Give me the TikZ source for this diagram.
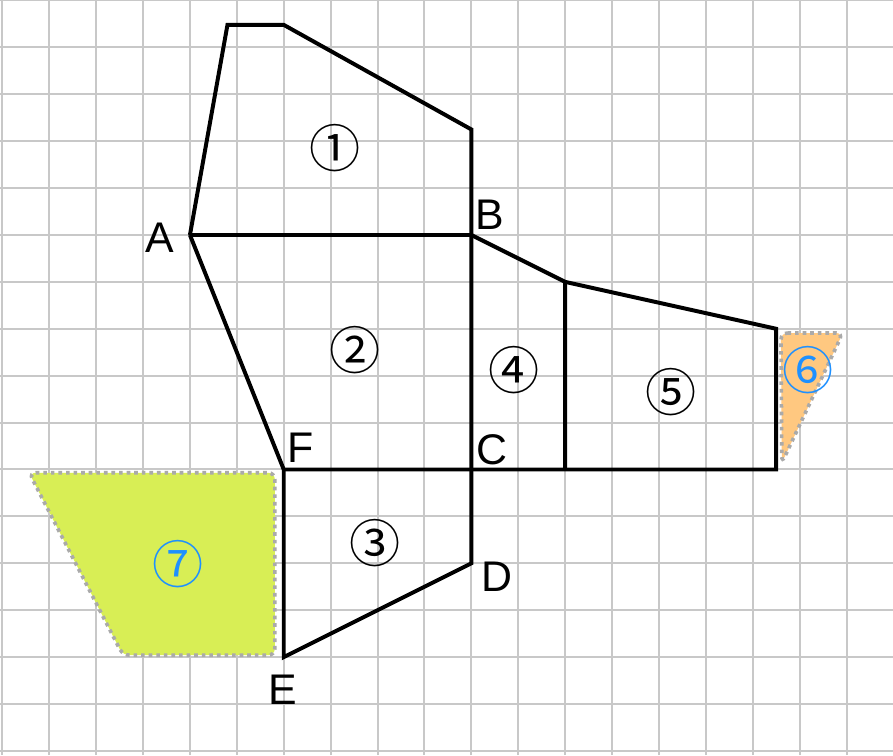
\documentclass[tikz,border=0pt]{standalone}
\usepackage{fontspec}
\setmainfont{Liberation Sans}
\newfontfamily\circfont{Noto Sans CJK JP}
\definecolor{gridgray}{RGB}{200,200,200}
\definecolor{dotgray}{RGB}{170,170,170}
\definecolor{orangefill}{RGB}{255,200,128}
\definecolor{greenfill}{RGB}{216,238,85}
\definecolor{numblue}{RGB}{30,144,255}
\begin{document}
\begin{tikzpicture}[
  edge/.style={line width=2.4pt, line join=miter},
  ptlabel/.style={font=\fontsize{26}{30}\selectfont, inner sep=0pt},
  numlabel/.style={font=\circfont\fontsize{31}{34}\selectfont, inner sep=0pt},
  region/.style={draw=dotgray, line width=2.2pt, dash pattern=on 2.2pt off 2.4pt, rounded corners=4pt}
]
\useasboundingbox (-4.05,-11.09) rectangle (14.99,5.01);
\fill[white] (-4.05,-11.09) rectangle (14.99,5.01);
% grid
\foreach \x in {-4,...,14} \draw[gridgray, line width=1.2pt] (\x,-11.09) -- (\x,5.01);
\foreach \y in {-11,...,5} \draw[gridgray, line width=1.2pt] (-4.05,\y) -- (14.99,\y);
% shaded regions
\filldraw[fill=orangefill, region] (12.6,-2.09) -- (13.92,-2.09) -- (12.62,-4.86) -- cycle;
\filldraw[fill=greenfill, region] (-3.43,-5.07) -- (1.81,-5.07) -- (1.81,-8.96) -- (-1.43,-8.96) -- cycle;
% points
\coordinate (A) at (0,0);
\coordinate (B) at (6,0);
\coordinate (C) at (6,-5);
\coordinate (F) at (2,-5);
\coordinate (D) at (6,-7);
\coordinate (E) at (2,-9);
\coordinate (T1) at (0.8,4.48);
\coordinate (T2) at (2,4.48);
\coordinate (T3) at (6,2.25);
\coordinate (P) at (8,-1);
\coordinate (Q) at (8,-5);
\coordinate (R) at (12.5,-2);
\coordinate (S) at (12.5,-5);
% outlines
\draw[edge] (A) -- (T1) -- (T2) -- (T3) -- (B);
\draw[edge] (A) -- (B);
\draw[edge] (A) -- (F) -- (C);
\draw[edge] (B) -- (C) -- (D) -- (E) -- (F);
\draw[edge] (B) -- (P) -- (Q);
\draw[edge] (P) -- (R) -- (S) -- (C);
% point labels
\node[ptlabel] (lA) at (-0.64,-0.06) {A};
\node[ptlabel] (lB) at (6.4,0.43) {B};
\node[ptlabel] (lC) at (6.44,-4.58) {C};
\node[ptlabel] (lF) at (2.35,-4.54) {F};
\node[ptlabel] (lD) at (6.55,-7.29) {D};
\node[ptlabel] (lE) at (1.98,-9.7) {E};
% region numbers
\node[numlabel] (n1) at (3.09,1.86) {①};
\node[numlabel] (n2) at (3.52,-2.45) {②};
\node[numlabel] (n3) at (3.94,-6.57) {③};
\node[numlabel] (n4) at (6.91,-2.88) {④};
\node[numlabel] (n5) at (10.26,-3.35) {⑤};
\node[numlabel, text=numblue] (n6) at (13.18,-2.88) {⑥};
\node[numlabel, text=numblue] (n7) at (-0.26,-7.01) {⑦};
\end{tikzpicture}
\end{document}
